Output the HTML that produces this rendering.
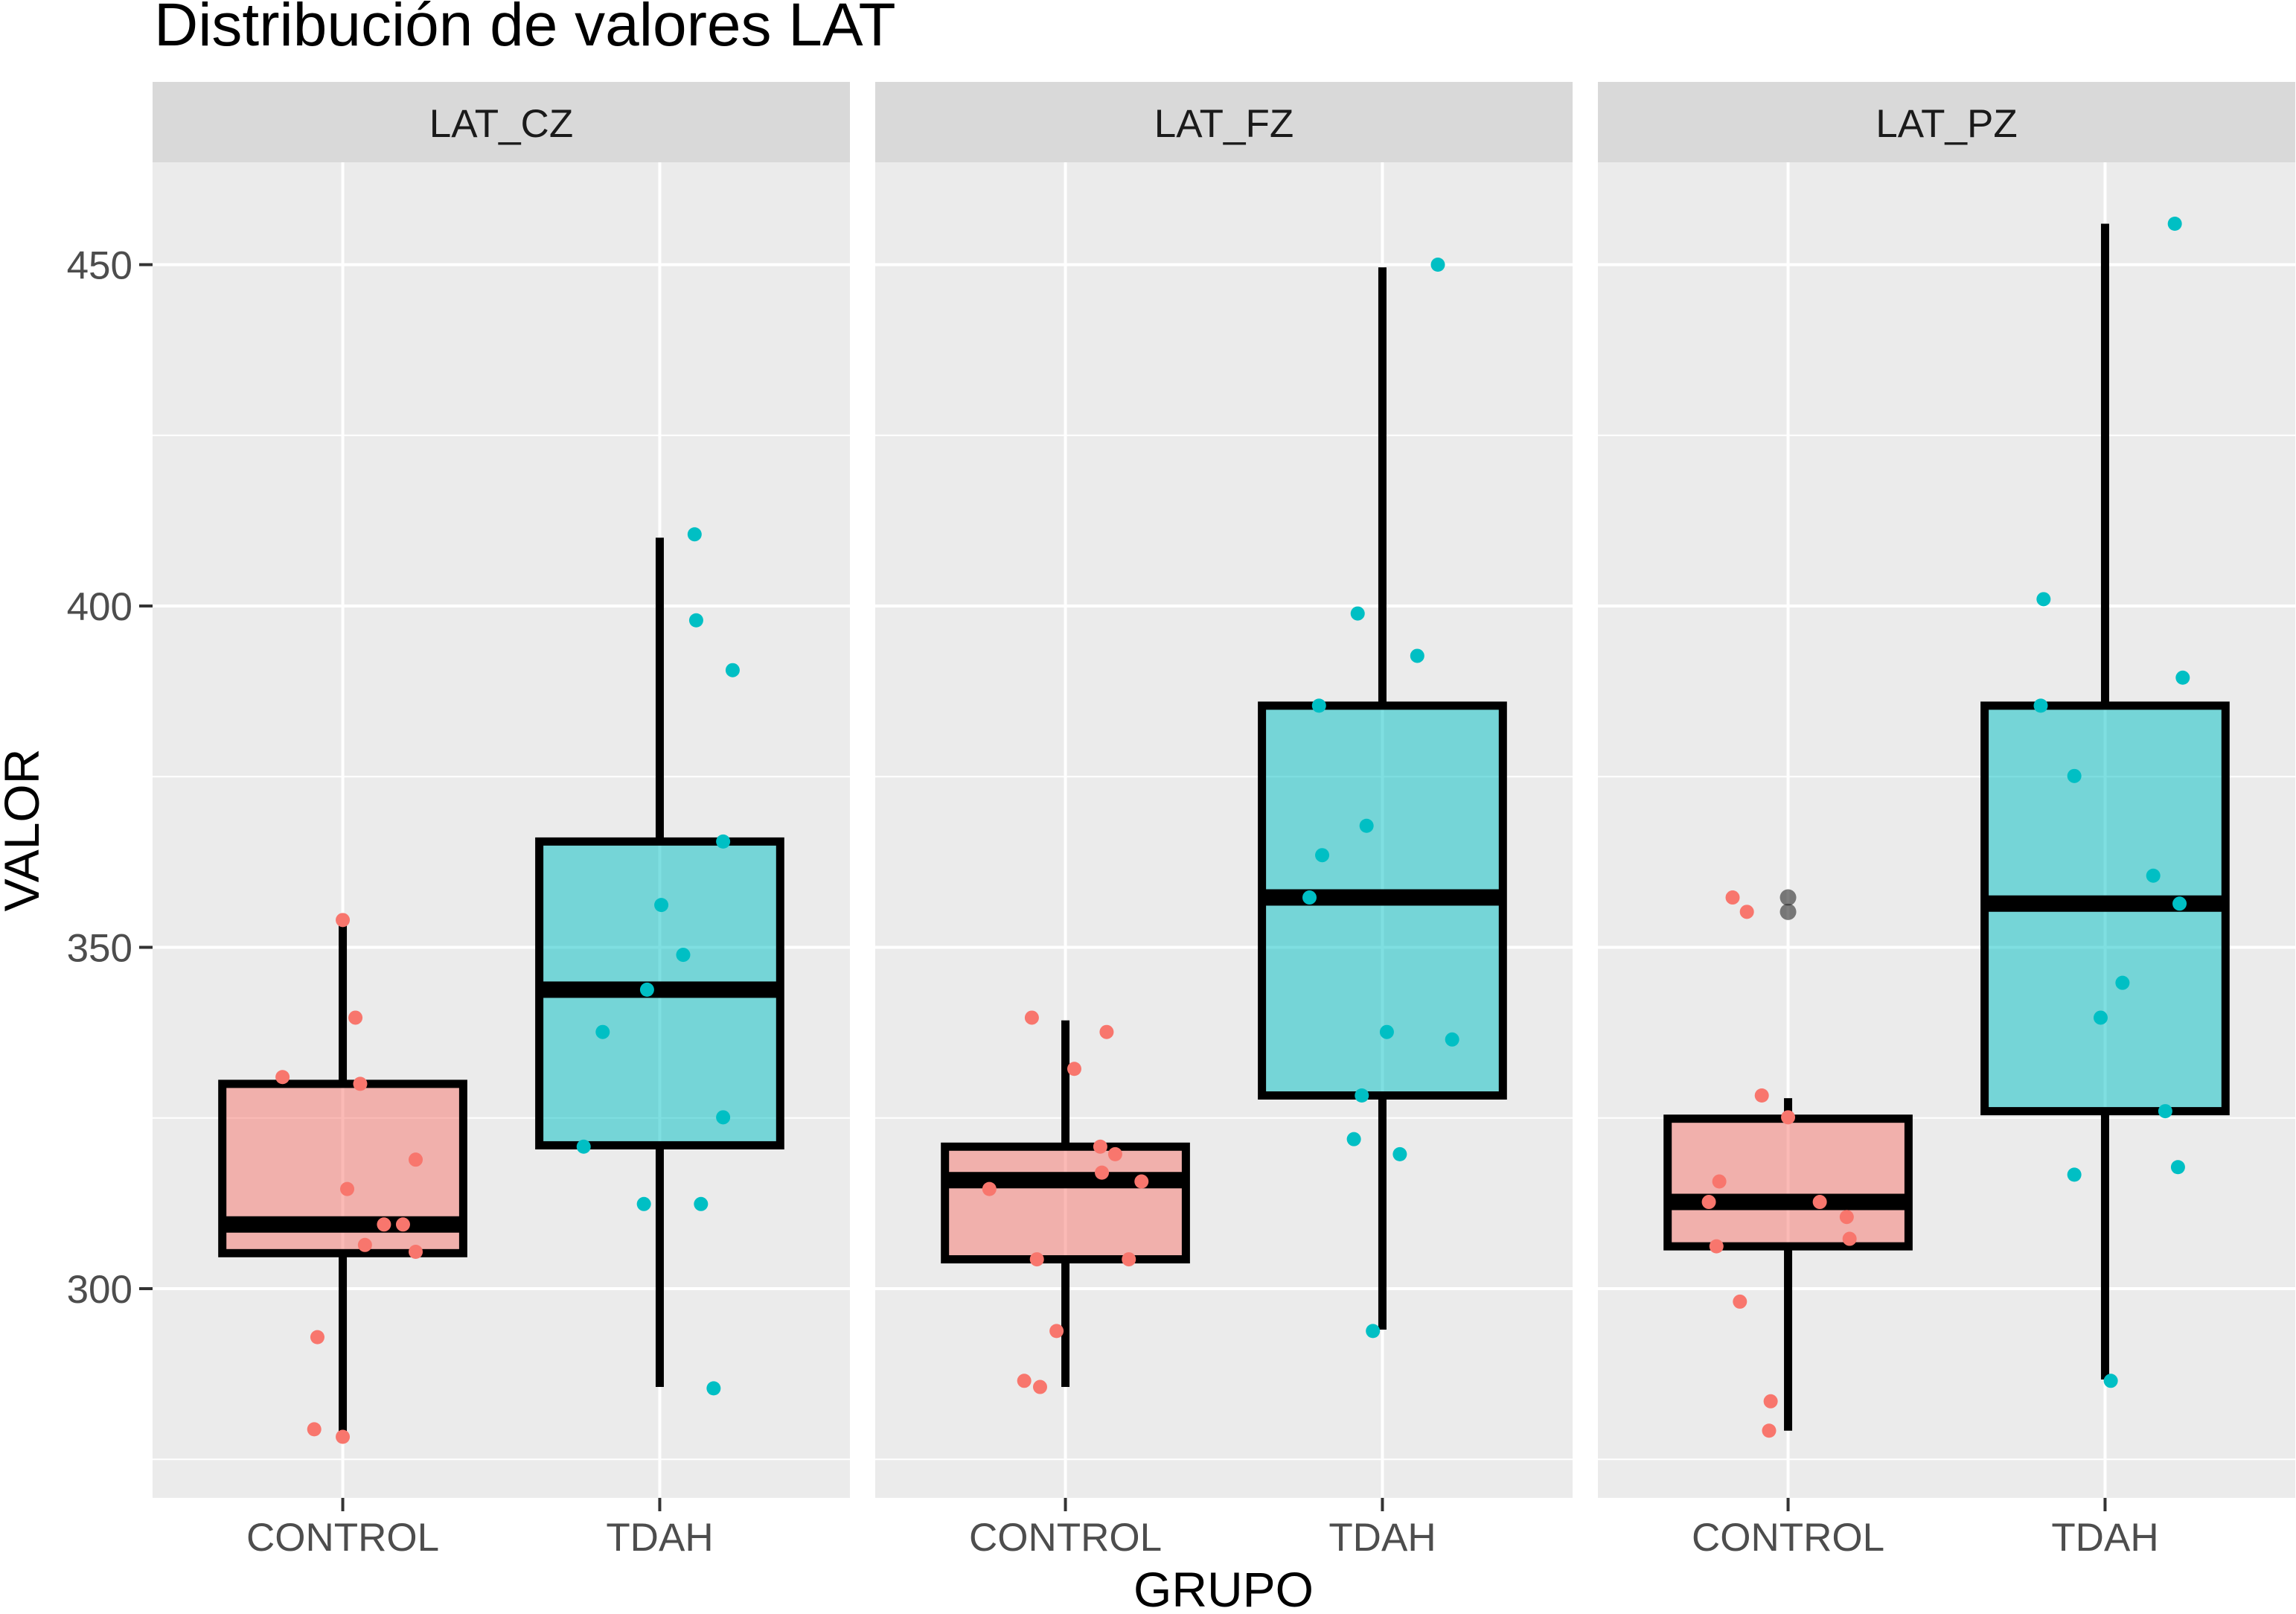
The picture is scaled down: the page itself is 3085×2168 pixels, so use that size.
<!DOCTYPE html>
<html><head><meta charset="utf-8"><style>
html,body{margin:0;padding:0;background:#fff;}
svg{display:block;font-family:"Liberation Sans",Arial,sans-serif;}
</style></head><body>
<svg id="chart" width="3085" height="2168" viewBox="0 0 3085 2168" xmlns="http://www.w3.org/2000/svg">
<rect width="3085" height="2168" fill="#fff"/>
<text x="207" y="61" font-size="82" fill="#000">Distribución de valores LAT</text>
<text x="1644" y="2158" font-size="66" text-anchor="middle" fill="#000">GRUPO</text>
<text transform="translate(52,1115) rotate(-90)" font-size="66" text-anchor="middle" fill="#000">VALOR</text>
<g id="panels"></g>
</svg>
<script>
const facets = ["LAT_CZ","LAT_FZ","LAT_PZ"];
const groups = ["CONTROL","TDAH"];
const yTicks = [300,350,400,450];
const yMinor = [275,325,375,425];
// box stats per facet: [CONTROL, TDAH] -> [lowerWhisker, q1, median, q3, upperWhisker]
const boxCZ = [[278.5,305.2,309.4,330,354],[285.6,321,343.8,365.5,410]];
const boxFZ = [[285.6,304.3,315.9,320.8,339.3],[294,328.3,357.3,385.4,449.6]];
const boxPZ = [[279.2,306.2,312.7,324.9,327.9],[286.7,326,356.4,385.4,456]];
const outliersPZControl = [357.3,355.2];
// jittered points: values and x offsets (category units)
const czCtrlVals = [331,354,339.7,330,314.6,318.9,309.4,309.4,306.4,305.4,292.9,279.4,278.3];
const czCtrlJit = [-0.19,0,0.04,0.055,0.014,0.23,0.13,0.19,0.07,0.23,-0.08,-0.09,0];
const czTdahVals = [410.5,397.9,390.6,365.5,356.2,348.9,343.8,337.6,325.1,320.8,312.4,312.4,285.4];
const czTdahJit = [0.11,0.115,0.23,0.2,0.005,0.074,-0.04,-0.18,0.2,-0.24,-0.05,0.13,0.17];
const fzCtrlVals = [339.7,337.6,332.2,314.6,320.8,319.7,317,315.7,304.3,304.3,293.8,286.5,285.6];
const fzCtrlJit = [-0.106,0.13,0.028,-0.24,0.11,0.157,0.115,0.24,-0.09,0.2,-0.028,-0.13,-0.08];
const fzTdahVals = [450,398.9,392.7,385.4,367.8,363.5,357.3,337.6,336.5,328.3,321.9,319.7,293.8];
const fzTdahJit = [0.175,-0.078,0.11,-0.2,-0.05,-0.19,-0.23,0.014,0.22,-0.065,-0.09,0.055,-0.03];
const pzCtrlVals = [357.3,355.2,328.3,325.1,315.7,312.7,312.7,310.5,306.2,307.3,298.1,283.5,279.2];
const pzCtrlJit = [-0.175,-0.13,-0.083,0,-0.217,-0.25,0.1,0.185,-0.226,0.194,-0.152,-0.055,-0.06];
const pzTdahVals = [456,401,389.5,385.4,375.1,360.5,356.4,344.8,339.7,326,317.8,316.7,286.5];
const pzTdahJit = [0.22,-0.194,0.245,-0.203,-0.097,0.152,0.235,0.055,-0.014,0.19,0.23,-0.097,0.018];

const boxes = [boxCZ, boxFZ, boxPZ];
const pts = [[[czCtrlVals,czCtrlJit],[czTdahVals,czTdahJit]],[[fzCtrlVals,fzCtrlJit],[fzTdahVals,fzTdahJit]],[[pzCtrlVals,pzCtrlJit],[pzTdahVals,pzTdahJit]]];
const outl = [[[],[]],[[],[]],[outliersPZControl,[]]];

const NS="http://www.w3.org/2000/svg";
const panelLeft=[205,1176,2147], panelW=937, panelTop=218, panelBottom=2012, stripTop=110;
const yPx = v => 1731 - (v-300)*9.17;
const unit = panelW/2.2;
const xPx = (p,c) => panelLeft[p] + (c+0.6)*unit;
const fills=["rgba(248,118,109,0.5)","rgba(0,191,196,0.5)"];
const cols=["#F8766D","#00BFC4"];
const root=document.getElementById('panels');
function mk(tag,attrs,parent){const e=document.createElementNS(NS,tag);for(const k in attrs)e.setAttribute(k,attrs[k]);(parent||root).appendChild(e);return e;}

yTicks.forEach(t=>{
  const lab=mk('text',{x:178,y:yPx(t)+19,'font-size':53,'text-anchor':'end',fill:'#4D4D4D'});
  
  
  lab.textContent=t;
  const tk=mk('line',{x1:187,x2:205,y1:yPx(t),y2:yPx(t),stroke:'#333','stroke-width':4});
  
  
});

facets.forEach((f,p)=>{
  const g=mk('g',{});
  
  
  const L=panelLeft[p];
  const strip=mk('rect',{x:L,y:stripTop,width:panelW,height:panelTop-stripTop,fill:'#D9D9D9'},g);
  
  
  const st=mk('text',{x:L+panelW/2,y:184,'font-size':53,'text-anchor':'middle',fill:'#1A1A1A'},g);
  
  
  st.textContent=f;
  const bg=mk('rect',{x:L,y:panelTop,width:panelW,height:panelBottom-panelTop,fill:'#EBEBEB'},g);
  
  
  yMinor.forEach(t=>{const l=mk('line',{x1:L,x2:L+panelW,y1:yPx(t),y2:yPx(t),stroke:'#fff','stroke-width':2},g);
    
    });
  yTicks.forEach(t=>{const l=mk('line',{x1:L,x2:L+panelW,y1:yPx(t),y2:yPx(t),stroke:'#fff','stroke-width':4},g);
    
    });
  groups.forEach((gr,c)=>{
    const x=xPx(p,c);
    const l=mk('line',{x1:x,x2:x,y1:panelTop,y2:panelBottom,stroke:'#fff','stroke-width':4},g);
    
    
    const tk=mk('line',{x1:x,x2:x,y1:panelBottom,y2:panelBottom+18,stroke:'#333','stroke-width':4},g);
    
    
    const tl=mk('text',{x:x,y:2083,'font-size':53,'text-anchor':'middle',fill:'#4D4D4D'},g);
    
    
    tl.textContent=gr;
  });
  groups.forEach((gr,c)=>{
    const x=xPx(p,c), b=boxes[p][c], hw=0.38*unit;
    const wl=mk('line',{x1:x,x2:x,y1:yPx(b[0]),y2:yPx(b[1]),stroke:'#000','stroke-width':11},g);
    
    
    const wu=mk('line',{x1:x,x2:x,y1:yPx(b[3]),y2:yPx(b[4]),stroke:'#000','stroke-width':11},g);
    
    
    const r=mk('rect',{x:x-hw,y:yPx(b[3]),width:2*hw,height:yPx(b[1])-yPx(b[3]),fill:fills[c],stroke:'#000','stroke-width':11},g);
    
    
    const m=mk('line',{x1:x-hw,x2:x+hw,y1:yPx(b[2]),y2:yPx(b[2]),stroke:'#000','stroke-width':22},g);
    
    
    outl[p][c].forEach(v=>{const o=mk('circle',{cx:x,cy:yPx(v),r:11,fill:'rgba(40,40,40,0.6)'},g);
      
      });
  });
  groups.forEach((gr,c)=>{
    const [vals,jit]=pts[p][c];
    vals.forEach((v,i)=>{
      const pt=mk('circle',{cx:xPx(p,c)+jit[i]*unit,cy:yPx(v),r:9.5,fill:cols[c]},g);
      
      
    });
  });
});
</script>
</body></html>
